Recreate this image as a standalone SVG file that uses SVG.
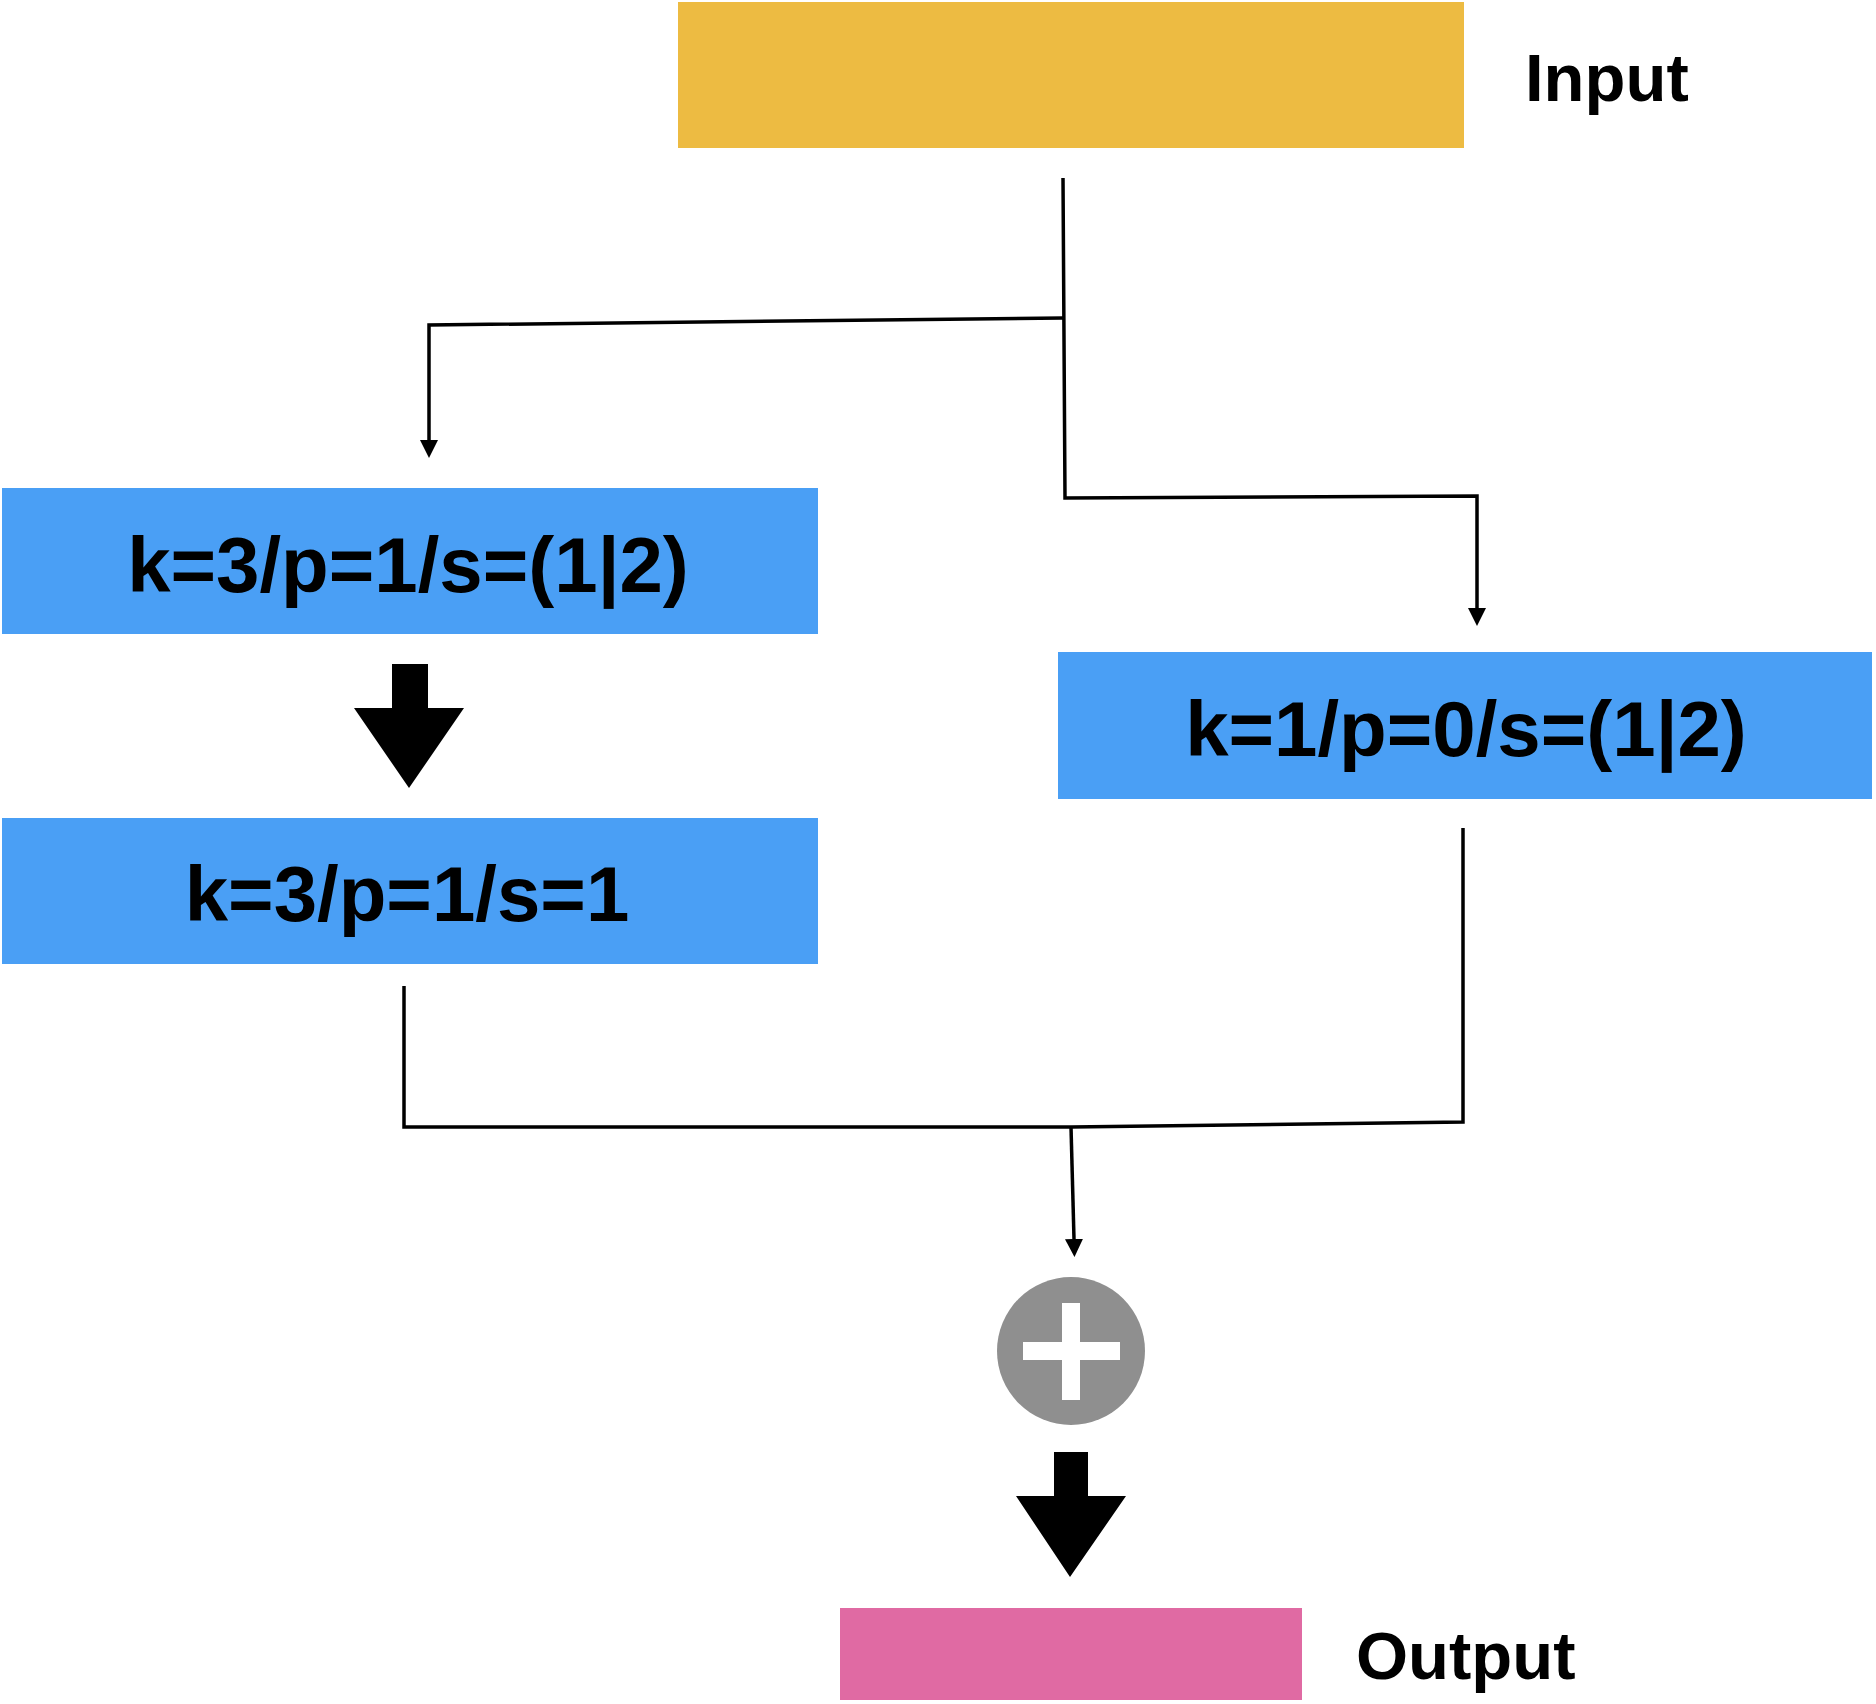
<svg xmlns="http://www.w3.org/2000/svg" width="1876" height="1704" viewBox="0 0 1876 1704">
  <style>
    .lbl { font-family: "Liberation Sans", Arial, sans-serif; font-weight: bold; fill: #000; }
    .box { font-size: 78px; text-anchor: middle; }
    .side { font-size: 67px; }
    .conv { fill: #4A9FF5; }
    .wire { fill: none; stroke: #000; stroke-width: 3.5; stroke-linejoin: miter; }
    .big { fill: #000; }
  </style>
  <defs>
    <marker id="ah" markerUnits="userSpaceOnUse" markerWidth="18" markerHeight="18" refX="0" refY="9" orient="auto" viewBox="0 0 18 18">
      <path d="M0,0 L18,9 L0,18 z" fill="#000"/>
    </marker>
  </defs>
  <rect width="1876" height="1704" fill="#fff"/>

  <g id="input">
    <rect x="678" y="2" width="786" height="146" fill="#EDBB42"/>
    <text class="lbl side" x="1525" y="101">Input</text>
  </g>

  <g id="conv3a">
    <rect class="conv" x="2" y="488" width="816" height="146"/>
    <text class="lbl box" x="408" y="592">k=3/p=1/s=(1|2)</text>
  </g>

  <g id="conv3b">
    <rect class="conv" x="2" y="818" width="816" height="146"/>
    <text class="lbl box" x="407" y="921">k=3/p=1/s=1</text>
  </g>

  <g id="conv1">
    <rect class="conv" x="1058" y="652" width="814" height="147"/>
    <text class="lbl box" x="1466" y="756">k=1/p=0/s=(1|2)</text>
  </g>

  <g id="add">
    <circle cx="1071" cy="1351" r="74" fill="#8F8F8F"/>
    <rect x="1062" y="1303" width="18" height="97" fill="#fff"/>
    <rect x="1023" y="1342" width="97" height="18" fill="#fff"/>
  </g>

  <g id="output">
    <rect x="840" y="1608" width="462" height="92" fill="#E06AA3"/>
    <text class="lbl side" x="1356" y="1679">Output</text>
  </g>

  <g id="connectors">
    <path class="wire" d="M1063,178 L1065,498 L1477,496 L1477,608" marker-end="url(#ah)"/>
    <path class="wire" d="M1063,318 L429,325 L429,440" marker-end="url(#ah)"/>
    <path class="wire" d="M404,986 L404,1127 L1071,1127 L1463,1122 L1463,828"/>
    <path class="wire" d="M1071,1127 L1074,1239" marker-end="url(#ah)"/>
    <polygon class="big" points="392,664 428,664 428,708 464,708 409,788 354,708 392,708"/>
    <polygon class="big" points="1054,1452 1088,1452 1088,1496 1126,1496 1070,1577 1016,1496 1054,1496"/>
  </g>
</svg>
